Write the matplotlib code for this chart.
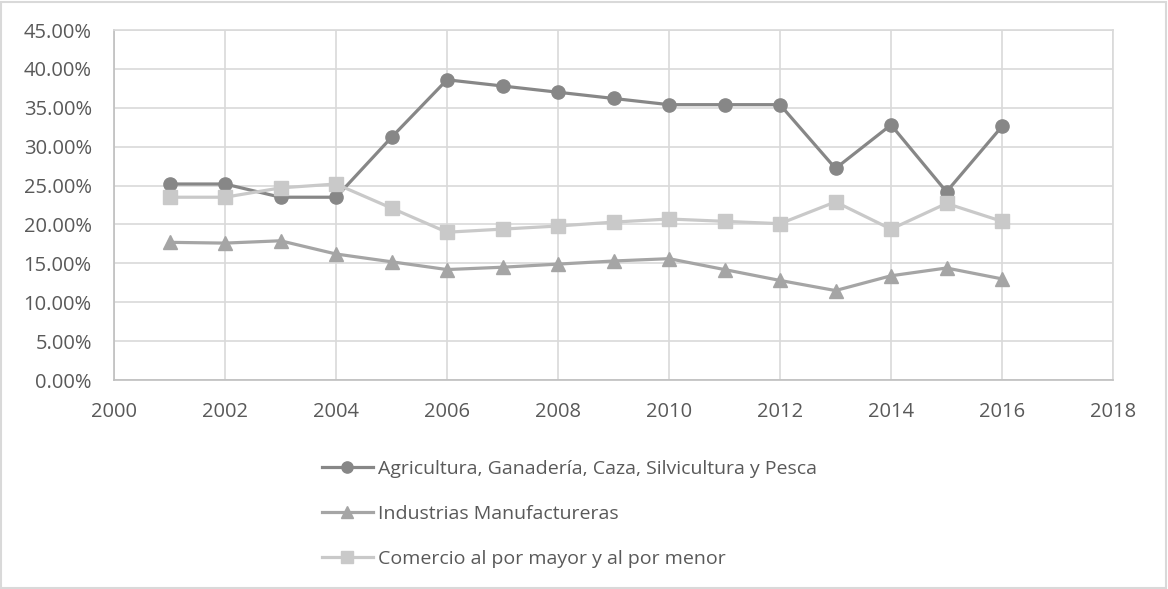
import matplotlib
matplotlib.use("Agg")
import matplotlib.pyplot as plt
from matplotlib.ticker import FuncFormatter, MultipleLocator
from matplotlib.patches import Rectangle

years = [2001, 2002, 2003, 2004, 2005, 2006, 2007, 2008, 2009, 2010, 2011, 2012, 2013, 2014, 2015, 2016]
agricultura = [25.2, 25.2, 23.5, 23.5, 31.2, 38.6, 37.8, 37.0, 36.2, 35.4, 35.4, 35.4, 27.2, 32.8, 24.2, 32.6]
industrias = [17.7, 17.6, 17.9, 16.2, 15.2, 14.2, 14.5, 14.9, 15.3, 15.6, 14.2, 12.8, 11.5, 13.4, 14.4, 13.0]
comercio = [23.5, 23.5, 24.7, 25.2, 22.1, 19.0, 19.4, 19.8, 20.3, 20.7, 20.4, 20.1, 22.9, 19.4, 22.7, 20.4]
labels = ["Agricultura, Ganadería, Caza, Silvicultura y Pesca",
          "Industrias Manufactureras",
          "Comercio al por mayor y al por menor"]

plt.rcParams['font.family'] = ['Open Sans', 'DejaVu Sans']
text_color = '#595959'

fig = plt.figure(figsize=(11.68, 5.89), dpi=100)
ax = fig.add_axes([114/1168, (589-380)/589, (1113-114)/1168, 350/589])

ax.plot(years, agricultura, color='#878787', lw=2.3, marker='o', ms=9.5, label=labels[0], zorder=3)
ax.plot(years, industrias, color='#A5A5A5', lw=2.3, marker='^', ms=9.5, label=labels[1], zorder=3)
ax.plot(years, comercio, color='#C9C9C9', lw=2.3, marker='s', ms=9.5, label=labels[2], zorder=3)

ax.set_xlim(2000, 2018)
ax.set_ylim(0, 45)
ax.xaxis.set_major_locator(MultipleLocator(2))
ax.yaxis.set_major_locator(MultipleLocator(5))
ax.yaxis.set_major_formatter(FuncFormatter(lambda v, p: f"{v:.2f}%"))
ax.grid(True, color='#D9D9D9', lw=1.2, zorder=0)
ax.set_axisbelow(True)
for s in ['top', 'right']:
    ax.spines[s].set_color('#D9D9D9')
for s in ['left', 'bottom']:
    ax.spines[s].set_color('#BFBFBF')
for s in ax.spines.values():
    s.set_linewidth(1.2)
ax.tick_params(axis='both', length=0, labelsize=14.5, labelcolor=text_color)
ax.tick_params(axis='y', pad=16)
ax.tick_params(axis='x', pad=16)

leg = fig.legend(loc='upper left', bbox_to_anchor=(322/1168, 1-460/589), frameon=False,
                 fontsize=14, handlelength=2.6, handletextpad=0.26, labelspacing=1.39,
                 borderaxespad=0, borderpad=0, markerscale=0.85)
for t in leg.get_texts():
    t.set_color(text_color)

fig.add_artist(Rectangle((1/1168, 1/589), 1165/1168, 586/589, transform=fig.transFigure,
                         fill=False, edgecolor='#D9D9D9', lw=1.5))

fig.savefig('out.png', dpi=100, facecolor='white')
